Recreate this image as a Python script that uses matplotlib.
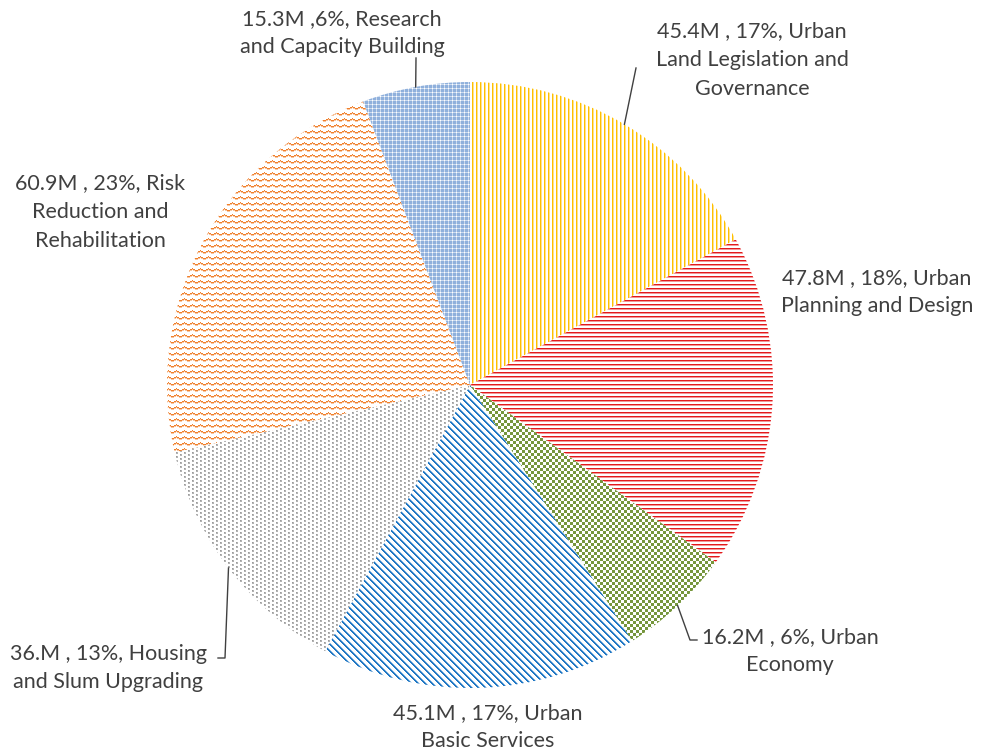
import numpy as np
import matplotlib
matplotlib.use("Agg")
import matplotlib.pyplot as plt
from matplotlib.colors import to_rgb

W, H = 984, 755

# data
categories = ["Urban Land Legislation and Governance", "Urban Planning and Design",
              "Urban Economy", "Urban Basic Services", "Housing and Slum Upgrading",
              "Risk Reduction and Rehabilitation", "Research and Capacity Building"]
values = [45.4, 47.8, 16.2, 45.1, 36.0, 60.9, 15.3]
label_texts = ["45.4M , 17%, Urban\nLand Legislation and\nGovernance",
               "47.8M , 18%, Urban\nPlanning and Design",
               "16.2M , 6%, Urban\nEconomy",
               "45.1M , 17%, Urban\nBasic Services",
               "36.M , 13%, Housing\nand Slum Upgrading",
               "60.9M , 23%, Risk\nReduction and\nRehabilitation",
               "15.3M ,6%, Research\nand Capacity Building"]

# style / layout (pixel coords, y from top)
colors = ["#FFC000", "#E31A1C", "#76963C", "#1F77C4", "#9A9A9A", "#F07F2A", "#8FB0DC"]
patterns = ["vert", "horiz", "checker", "diag", "dots", "zigzag", "grid"]
label_pos = [(752, 60), (877, 292), (790, 651), (488, 727), (108, 668), (100, 212), (342, 33)]
leader_end = {0: [(636, 68)], 2: [(690, 640), (697, 640)], 4: [(225, 658), (218, 658)],
              6: [(416, 58)]}
CX, CY, R = 470, 385, 303

Y, X = np.mgrid[0:H, 0:W]


def texture(kind, color):
    c = np.array(to_rgb(color))
    light = 1 - (1 - c) * 0.45
    mid = 1 - (1 - c) * 0.75
    img = np.ones((H, W, 3))
    if kind == "vert":
        m = X % 4
        img[m == 0] = c
        img[m == 1] = light
    elif kind == "horiz":
        m = Y % 4
        img[m == 0] = c
        img[m == 1] = light
    elif kind == "checker":
        img[((X // 3) + (Y // 3)) % 2 == 0] = c
    elif kind == "diag":
        m = (X - Y) % 7
        img[(m == 0) | (m == 1)] = c
        img[m == 2] = light
    elif kind == "dots":
        shift = 2 * ((X // 4) % 2)
        img[(X % 4 < 2) & ((Y + shift) % 4 < 2)] = mid
        img[(X % 4 == 0) & ((Y + shift) % 4 == 0)] = c
    elif kind == "zigzag":
        tri = np.abs((X % 8) - 4) // 2
        m = (Y + tri) % 6
        img[m == 0] = c
        img[m == 1] = light
    elif kind == "grid":
        img[:] = c
        gx = X % 4 == 0
        gy = Y % 4 == 0
        img[gx ^ gy] = light
        img[gx & gy] = 1.0
    return img


fig = plt.figure(figsize=(W / 100, H / 100), dpi=100)
ax = fig.add_axes([0, 0, 1, 1])

wedges, _ = ax.pie(values, startangle=90, counterclock=False,
                   center=(CX, H - CY), radius=R,
                   wedgeprops=dict(facecolor="none", edgecolor="none"))

for w, kind, col in zip(wedges, patterns, colors):
    im = ax.imshow(texture(kind, col), extent=(0, W, 0, H), origin="upper",
                   interpolation="nearest", zorder=0)
    im.set_clip_path(w)

for i, (txt, (lx, ly)) in enumerate(zip(label_texts, label_pos)):
    ax.text(lx, H - ly, txt, ha="center", va="center", fontsize=15.5,
            family="Lato", color="#404040", linespacing=1.55)
    if i in leader_end:
        w = wedges[i]
        a = np.deg2rad((w.theta1 + w.theta2) / 2)
        px = CX + R * np.cos(a)
        py = H - CY + R * np.sin(a)
        xs = [px] + [p[0] for p in leader_end[i]]
        ys = [py] + [H - p[1] for p in leader_end[i]]
        ax.plot(xs, ys, color="#404040", lw=1)

ax.set_xlim(0, W)
ax.set_ylim(0, H)
ax.set_aspect("auto")
ax.axis("off")
fig.savefig("out.png", dpi=100, facecolor="white")
